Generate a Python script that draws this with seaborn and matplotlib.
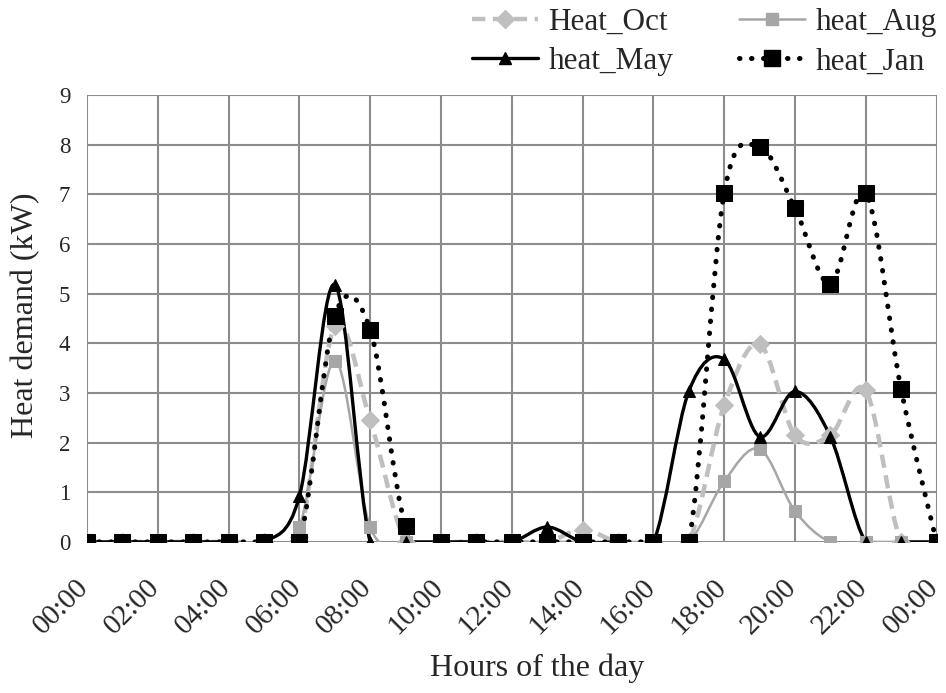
import numpy as np
import pandas as pd
import seaborn as sns
import matplotlib
matplotlib.use("Agg")
import matplotlib.pyplot as plt
import matplotlib.transforms as mtrans
from matplotlib.path import Path
from matplotlib.patches import PathPatch
from matplotlib.lines import Line2D

# hourly heat demand (kW), 00:00 .. 24:00
hours = list(range(25))
heat_oct = [0, 0, 0, 0, 0, 0, 0.1, 4.35, 2.45, 0, 0, 0, 0, 0, 0.25, 0, 0, 0,
            2.75, 3.98, 2.15, 2.15, 3.05, 0, 0]
heat_aug = [0, 0, 0, 0, 0, 0, 0.3, 3.65, 0.3, 0, 0, 0, 0, 0, 0, 0, 0, 0,
            1.22, 1.87, 0.62, 0, 0, 0, 0]
heat_may = [0, 0, 0, 0, 0, 0, 0.92, 5.18, 0, 0, 0, 0, 0, 0.3, 0, 0, 0, 3.03,
            3.68, 2.12, 3.03, 2.12, 0, 0, 0]
heat_jan = [0, 0, 0, 0, 0, 0, 0, 4.55, 4.27, 0.32, 0, 0, 0, 0, 0, 0, 0, 0,
            7.02, 7.95, 6.72, 5.2, 7.02, 3.07, 0]
tick_labels = ["00:00", "02:00", "04:00", "06:00", "08:00", "10:00", "12:00",
               "14:00", "16:00", "18:00", "20:00", "22:00", "00:00"]


def smooth_path(x, y):
    """Bezier path through the points, like Excel's smoothed line."""
    pts = np.column_stack([x, y]).astype(float)
    n = len(pts)
    verts = [pts[0]]
    codes = [Path.MOVETO]
    for i in range(n - 1):
        p0 = pts[i - 1] if i > 0 else pts[i]
        p1 = pts[i]
        p2 = pts[i + 1]
        p3 = pts[i + 2] if i + 2 < n else pts[i + 1]
        c1 = p1 + (p2 - p0) / 6.0
        c2 = p2 - (p3 - p1) / 6.0
        verts += [c1, c2, p2]
        codes += [Path.CURVE4] * 3
    return Path(verts, codes)


sns.set_style("white")
plt.rcParams["font.family"] = ["Liberation Serif", "DejaVu Serif"]

series = [
    ("Heat_Oct", heat_oct, dict(color="#BFBFBF", lw=3.2, ls=(0, (3.0, 1.7)), marker="D", ms=9.5, capstyle="butt")),
    ("heat_Aug", heat_aug, dict(color="#A6A6A6", lw=1.8, ls="-", marker="s", ms=8, capstyle="butt")),
    ("heat_May", heat_may, dict(color="black", lw=2.4, ls="-", marker="^", ms=9, capstyle="butt")),
    ("heat_Jan", heat_jan, dict(color="black", lw=3.6, ls=(0, (0.1, 2.3)), marker="s", ms=11.5, capstyle="round")),
]

fig = plt.figure(figsize=(9.46, 6.93), dpi=100)
ax = fig.add_axes([0.092, 0.218, 0.898, 0.645])

handles = {}
for name, vals, st in series:
    patch = PathPatch(smooth_path(hours, vals), facecolor="none", edgecolor=st["color"],
                      lw=st["lw"], ls=st["ls"], capstyle=st["capstyle"], zorder=3)
    ax.add_patch(patch)
    df = pd.DataFrame({"hour": hours, "kW": vals})
    sns.lineplot(data=df, x="hour", y="kW", ax=ax, linestyle="none", marker=st["marker"],
                 markersize=st["ms"], color=st["color"], markeredgecolor=st["color"], zorder=4)
    handles[name] = Line2D([], [], color=st["color"], lw=st["lw"], ls=st["ls"],
                           dash_capstyle=st["capstyle"], marker=st["marker"],
                           markersize=st["ms"], markeredgecolor=st["color"])

ax.set_xlim(0, 24)
ax.set_ylim(0, 9)
ax.set_xticks(range(0, 25, 2))
ax.set_yticks(range(0, 10))
ax.grid(True, color="#8C8C8C", lw=1.5)
ax.set_axisbelow(True)
for s in ax.spines.values():
    s.set_visible(False)
ax.tick_params(axis="x", length=0, labelsize=21, pad=23)
ax.tick_params(axis="y", length=5, width=1.5, color="#8C8C8C", labelsize=16.5, pad=7)
ax.set_xticklabels(tick_labels, rotation=45, ha="right", va="top")
# labels sit a little to the right of their tick, as in the original
shift = mtrans.ScaledTranslation(7 / 100, 0, fig.dpi_scale_trans)
for lab in ax.get_xticklabels():
    lab.set_transform(lab.get_transform() + shift)

ax.set_xlabel("Hours of the day", fontsize=23)
ax.xaxis.set_label_coords((537 - 87) / 850, (542 - 654) / 447)
ax.set_ylabel("Heat demand (kW)", fontsize=23)
ax.yaxis.set_label_coords((40 - 87) / 850, 0.507)

order = ["Heat_Oct", "heat_May", "heat_Aug", "heat_Jan"]
fig.legend([handles[k] for k in order], order, loc="upper left",
           bbox_to_anchor=(472 / 946, 1 - 8 / 693), borderpad=0, borderaxespad=0,
           ncol=2, frameon=False, fontsize=22.5, handlelength=2.1, handletextpad=0.35,
           columnspacing=2.1, labelspacing=0.33)

fig.savefig("out.png", dpi=100)
